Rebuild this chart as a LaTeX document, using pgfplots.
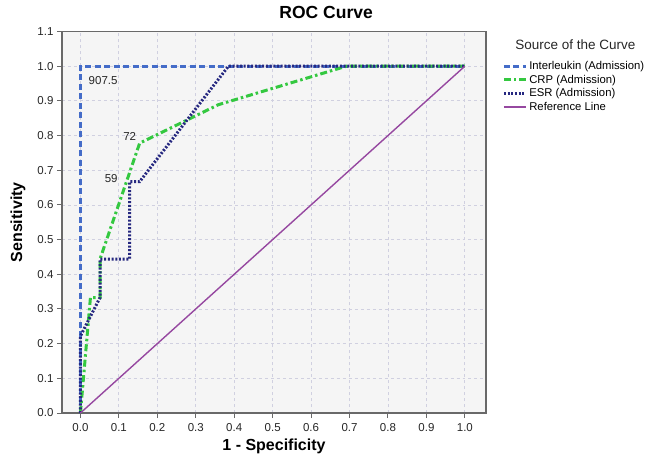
\documentclass[border=0pt]{standalone}
\usepackage{fontspec}
\setmainfont{Liberation Sans}
\usepackage{pgfplots}
\pgfplotsset{compat=1.18}
\definecolor{ilcol}{RGB}{68,108,200}
\definecolor{crpcol}{RGB}{52,200,64}
\definecolor{esrcol}{RGB}{38,40,128}
\definecolor{refcol}{RGB}{150,72,160}
\definecolor{bgcol}{RGB}{245,245,245}
\definecolor{gridcol}{RGB}{208,208,224}
\definecolor{framecol}{RGB}{105,105,105}
\begin{document}
\begin{tikzpicture}
\begin{axis}[
  at={(0,0)}, anchor=south west,
  scale only axis, width=424bp, height=381.5bp,
  xmin=-0.048, xmax=1.055, ymin=0, ymax=1.1,
  xtick={0,0.1,0.2,0.3,0.4,0.5,0.6,0.7,0.8,0.9,1.0},
  ytick={0,0.1,0.2,0.3,0.4,0.5,0.6,0.7,0.8,0.9,1.0,1.1},
  /pgf/number format/.cd, fixed, fixed zerofill, precision=1, assume math mode=true,
  /pgfplots/.cd,
  tick label style={font=\fontsize{11.5bp}{13bp}\selectfont, text=black!85},
  xticklabel style={yshift=-1.5bp},
  tick pos=left, tick align=outside, major tick length=5bp,
  tick style={framecol, line width=1bp},
  axis line style={framecol, line width=1.4bp},
  axis background/.style={fill=bgcol},
  grid=major, major grid style={gridcol, dashed, line width=0.8bp},
  xlabel={1 - Specificity}, ylabel={Sensitivity},
  xlabel style={at={(axis description cs:0.5,-0.0865)}, anchor=center, font=\fontsize{16bp}{19bp}\selectfont\bfseries},
  ylabel style={at={(axis description cs:-0.1038,0.5)}, anchor=center, rotate=0, font=\fontsize{16bp}{19bp}\selectfont\bfseries},
  title={ROC Curve},
  title style={at={(axis description cs:0.623,1.0197)}, anchor=base, font=\fontsize{17.5bp}{20bp}\selectfont\bfseries},
  legend style={at={(axis description cs:1.038,0.925)}, anchor=north west, draw=none, fill=none,
    font=\fontsize{11.3bp}{13bp}\selectfont, inner sep=0pt, row sep=2.2bp, column sep=2bp,
    nodes={inner sep=0pt, text height=9bp, text depth=2.5bp}},
  legend cell align=left,
  legend image code/.code={\draw[#1] (0bp,0bp) -- (22bp,0bp);},
  clip=false,
]
\addplot[ilcol, line width=3bp, dash pattern=on 6bp off 3.5bp] coordinates {(0,0) (0,1) (1,1)};
\addlegendentry{Interleukin (Admission)}
\addplot[crpcol, line width=3bp, dash pattern=on 7bp off 3bp on 2.5bp off 3bp] coordinates {
 (0,0) (0.026,0.333) (0.051,0.333) (0.051,0.444) (0.154,0.778) (0.359,0.889) (0.692,1) (1,1)};
\addlegendentry{CRP (Admission)}
\addplot[esrcol, line width=3bp, dash pattern=on 2bp off 1.7bp] coordinates {
 (0,0) (0,0.222) (0.051,0.333) (0.051,0.444) (0.128,0.444) (0.128,0.667) (0.154,0.667) (0.385,1) (1,1)};
\addlegendentry{ESR (Admission)}
\addplot[refcol, line width=1.4bp] coordinates {(0,0) (1,1)};
\addlegendentry{Reference Line}
\node[font=\fontsize{11.5bp}{12bp}\selectfont, text=black!85] at (axis cs:0.059,0.96) {907.5};
\node[font=\fontsize{11.5bp}{12bp}\selectfont, text=black!85] at (axis cs:0.128,0.798) {72};
\node[font=\fontsize{11.5bp}{12bp}\selectfont, text=black!85] at (axis cs:0.080,0.676) {59};
\node[font=\fontsize{13.5bp}{15bp}\selectfont, text=black!85, anchor=base] at (axis description cs:1.211,0.953) {Source of the Curve};
\end{axis}
\pgfresetboundingbox
\path (-62bp,-49bp) rectangle (586bp,413bp);
\end{tikzpicture}
\end{document}
